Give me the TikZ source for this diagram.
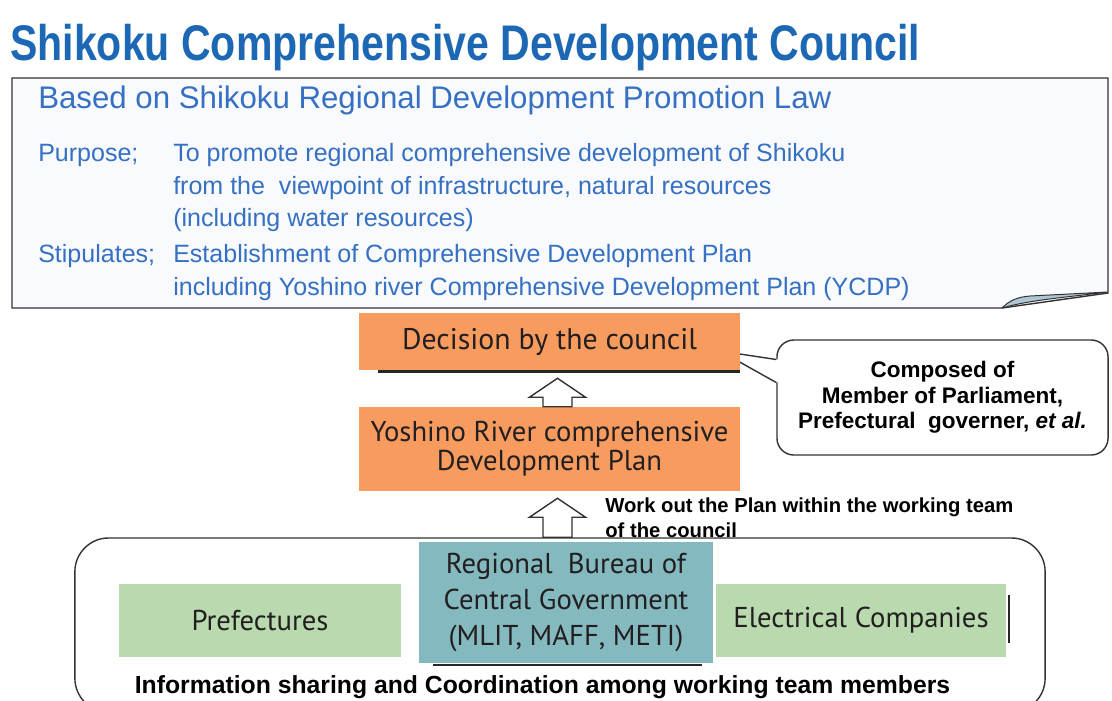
\documentclass[tikz,border=0pt]{standalone}
\usepackage{fontspec}
\setmainfont{Liberation Sans}
\newfontfamily\boxfont{PT Sans}
\newfontfamily\titlefont[FakeStretch=0.82]{Liberation Sans Bold}
\usetikzlibrary{calc,positioning}
\definecolor{titleblue}{HTML}{1D68B4}
\definecolor{textblue}{HTML}{3570C2}
\definecolor{planorange}{HTML}{F79C5E}
\definecolor{bureauteal}{HTML}{84B9C0}
\definecolor{membergreen}{HTML}{B8DAAE}
\definecolor{lawfill}{HTML}{F9FAFD}
\definecolor{curlfill}{HTML}{AFC6D6}
\definecolor{inkdark}{HTML}{231F20}

\begin{document}
\begin{tikzpicture}[x=0.025cm, y=-0.025cm,
  boxtext/.style={rectangle, inner sep=0pt, align=center, text=inkdark,
    font=\boxfont\fontsize{20.4pt}{20.6pt}\selectfont},
  orangebox/.style={boxtext, fill=planorange, minimum width=9.525cm},
  greenbox/.style={boxtext, fill=membergreen, minimum height=1.825cm},
  bluetext/.style={anchor=base west, inner sep=0pt, text=textblue,
    font=\fontsize{17.8pt}{20pt}\selectfont},
  boldtext/.style={anchor=base west, inner sep=0pt, text=black,
    font=\bfseries\fontsize{14.4pt}{17pt}\selectfont},
  frame/.style={draw=black!80, line width=1pt},
  shadow/.style={draw=black!85, line width=1.8pt},
  hollow/.style={frame, fill=white, to path={
    let \p1=(\tikztostart), \p2=(\tikztotarget) in
    (\x2-10.3pt,\y1) -- (\x2-10.3pt,\y2-13.5pt) -- (\x2-20pt,\y2-13.5pt)
    -- (\x2,\y2) -- (\x2+20pt,\y2-13.5pt) -- (\x2+10.3pt,\y2-13.5pt)
    -- (\x2+10.3pt,\y1) -- cycle}}
]
  \useasboundingbox (0,0) rectangle (1112,700);
  \clip (0,0) rectangle (1112,700);
  \fill[white] (0,0) rectangle (1112,700);

  % law panel with curled corner
  \draw[frame, fill=lawfill] (12,78) -- (1108,78) -- (1108,293) -- (1002,308) -- (12,308) -- cycle;
  \draw[frame, line width=0.7pt, fill=curlfill] (1002,308) .. controls (1010,300) and (1018,297) .. (1030,296)
    -- (1108,292) .. controls (1060,298) and (1030,300) .. (1002,308);

  \node[anchor=base west, inner sep=0pt, text=titleblue, font=\titlefont\fontsize{35.6pt}{40pt}\selectfont]
    (title) at (10,60) {Shikoku Comprehensive Development Council};

  \node[bluetext, font=\fontsize{22.2pt}{24pt}\selectfont] (based) at (38,108) {Based on Shikoku Regional Development Promotion Law};
  \node[bluetext] (purpose) at (38,161) {Purpose;};
  \node[bluetext] (purp1) at (173,161) {To promote regional comprehensive development of Shikoku};
  \node[bluetext] (purp2) at (173,194) {from the\ \ viewpoint of infrastructure, natural resources};
  \node[bluetext] (purp3) at (173,226) {(including water resources)};
  \node[bluetext] (stip) at (38,262) {Stipulates;};
  \node[bluetext] (stip1) at (173,262) {Establishment of Comprehensive Development Plan};
  \node[bluetext] (stip2) at (173,295) {including Yoshino river Comprehensive Development Plan (YCDP)};

  % callout
  \node[frame, fill=white, rounded corners=12pt, minimum width=8.275cm, minimum height=2.875cm,
    align=center, font=\bfseries\fontsize{16pt}{18pt}\selectfont] (council) at (942.5,397.5)
    {Composed of\\Member of Parliament,\\Prefectural\ \ governer, \textit{et al.}};
  \coordinate (tip) at (720,351);
  \fill[white] ($(council.west)+(1.5,-38)$) -- (tip) -- ($(council.west)+(1.5,-15)$) -- cycle;
  \draw[frame] ($(council.west)+(0,-38)$) -- (tip) -- ($(council.west)+(0,-15)$);

  % working team
  \node[frame, rounded corners=24pt, minimum width=24.25cm, minimum height=4.35cm] (team) at (560,625) {};

  \node[orangebox, minimum height=1.425cm, font=\boxfont\fontsize{21.2pt}{22pt}\selectfont] (decision) at (549.5,341.5) {Decision by the council};
  \node[orangebox, minimum height=2.1cm] (plan) at (549.5,449) {Yoshino River comprehensive\\Development Plan};
  \draw[shadow] ($(decision.south west)+(19,1)$) -- ($(decision.south east)+(0,1)$);

  \path[hollow] (plan.north) to ($(decision.south)+(8,8)$);
  \path[hollow] (team.north) to ($(plan.south)+(8,7)$);

  \node[boldtext] (workout) at (605,512) {Work out the Plan within the working team};
  \node[boldtext] (workout2) at (605,537) {of the council};

  \node[boxtext, fill=bureauteal, minimum width=7.35cm, minimum height=3.025cm,
    font=\boxfont\fontsize{20.4pt}{25.6pt}\selectfont] (bureau) at (566,602.5)
    {Regional\ \ Bureau of\\Central Government\\(MLIT, MAFF, METI)};
  \draw[shadow] ($(bureau.south west)+(14,1.5)$) -- ($(bureau.south east)+(-11,1.5)$);

  \node[greenbox, minimum width=7.05cm] (pref) at (260,620.5) {Prefectures};
  \node[greenbox, minimum width=7.25cm] (elec) at (861,620.5) {Electrical Companies};
  \draw[shadow] ($(elec.east)+(2.5,-26)$) -- ($(elec.east)+(2.5,22)$);

  \node[anchor=base, inner sep=0pt, font=\bfseries\fontsize{17.6pt}{20pt}\selectfont] (sharing) at (542.5,693)
    {Information sharing and Coordination among working team members};
\end{tikzpicture}
\end{document}
